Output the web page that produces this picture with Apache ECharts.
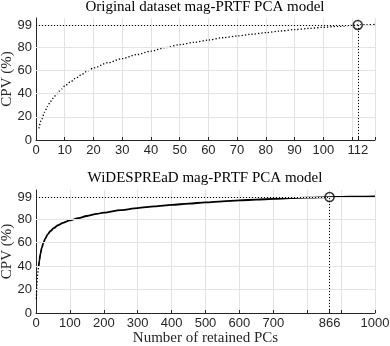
<!DOCTYPE html>
<html>
<head>
<meta charset="utf-8">
<script src="https://cdn.jsdelivr.net/npm/echarts@6/dist/echarts.min.js"></script>
<style>
html,body{margin:0;padding:0;background:#fff;}
#chart{width:390px;height:346px;}
</style>
</head>
<body>
<div id="chart"></div>
<script>
// values
var topPCs = [1,2,3,4,5,6,7,8,9,10,12,14,16,18,20,25,30,35,40,45,50,55,60,65,70,75,80,85,90,95,100,105,110,112,115,118];
var topCPV = [10,18,24,29,33,36,39,42,44,46.5,50,53.5,56.5,59.5,62,66.5,70,73.5,76.5,79.5,82,84,86,88,89.5,91,92.4,93.8,95,96,97,97.8,98.6,99,99.2,99.4];

var botStartPCs = [1,2,3,4,5,6,7,8];
var botStartCPV = [12,20,26,30,33,36,38,40];
var botPCs = [8,10,13,17,22,27,35,43,52,65,80,100,125,150,179,200,250,300,350,400,450,500,550,600,650,700,750,800,866,900,950,1000];
var botCPV = [40,45,50.5,55.5,60,63.5,67.3,70,72.4,74.9,77,79.1,81,82.8,84.6,85.7,87.9,89.6,91,92.3,93.4,94.4,95.3,96.1,96.8,97.4,98,98.5,99,99.2,99.4,99.6];

var threshold = 99;
var topCut = 112;
var botCut = 866;

var topXLabels = [0,10,20,30,40,50,60,70,80,90,100,112];
var topXTicks = [0,10,20,30,40,50,60,70,80,90,100,110,112,118];
var botXLabels = [0,100,200,300,400,500,600,700,866,1000];
var botXTicks = [0,100,200,300,400,500,600,700,800,866,900,1000];
var yLabels = [0,20,40,60,80,99];
var yGrid = [20,40,60,80,99];

function pairs(xs,ys){
	var out=[];
	for(var i=0;i<xs.length;i++){ out.push([xs[i],ys[i]]); }
	return out;
}
function plain(v){ return String(v); }

var axisColor = '#262626';
var gridColor = '#e3e3e3';
var serif = '"Liberation Serif", serif';
var sans = '"Liberation Sans", Arial, sans-serif';

function xAxisFor(gi,max,interval,labels,ticks,name){
	return {
		type:'value', gridIndex:gi, min:0, max:max, interval:interval,
		name:name, nameLocation:'middle', nameGap:18, nameMoveOverlap:false,
		nameTextStyle:{fontFamily:serif,fontSize:15,color:axisColor},
		axisLine:{onZero:false,lineStyle:{color:axisColor,width:1}},
		axisTick:{inside:true,length:3,customValues:ticks,lineStyle:{color:axisColor}},
		axisLabel:{customValues:labels,formatter:plain,margin:4,color:axisColor,fontFamily:sans,fontSize:13,showMaxLabel:true,showMinLabel:true},
		splitLine:{show:true,lineStyle:{color:gridColor,width:1}}
	};
}
function yAxisFor(gi){
	return {
		type:'value', gridIndex:gi, min:0, max:105,
		name:'CPV (%)', nameLocation:'middle', nameGap:21, nameMoveOverlap:false,
		nameTextStyle:{fontFamily:serif,fontSize:15,color:axisColor},
		axisLine:{show:true,lineStyle:{color:axisColor,width:1}},
		axisTick:{show:true,inside:true,length:3,customValues:yLabels,lineStyle:{color:axisColor}},
		axisLabel:{customValues:yLabels,formatter:plain,margin:4,color:axisColor,fontFamily:sans,fontSize:13},
		splitLine:{show:false}
	};
}
function gridLines(ai){
	return {
		type:'line', xAxisIndex:ai, yAxisIndex:ai, data:[], z:1,
		markLine:{silent:true,symbol:['none','none'],label:{show:false},
			lineStyle:{color:gridColor,type:'solid',width:1},
			data:yGrid.map(function(v){return {yAxis:v};})}
	};
}
function refLines(ai,cut){
	return {
		type:'scatter', xAxisIndex:ai, yAxisIndex:ai, z:5,
		symbol:'circle', symbolSize:9,
		itemStyle:{color:'rgba(0,0,0,0)',borderColor:'#000',borderWidth:1.5},
		data:[[cut,threshold]],
		markLine:{silent:true,symbol:['none','none'],label:{show:false},
			lineStyle:{color:'#000',type:[1,2],width:1},
			data:[
				[{coord:[0,threshold]},{coord:[cut,threshold]}],
				[{coord:[cut,0]},{coord:[cut,threshold]}]
			]}
	};
}

var myChart = echarts.init(document.getElementById('chart'));
var option = {
	animation:false,
	backgroundColor:'#fff',
	title:[{
		text:'Original dataset mag-PRTF PCA model', left:205, textAlign:'center', top:0, padding:0,
		textStyle:{fontFamily:serif,fontSize:15,fontWeight:'normal',color:'#000'}
	},{
		text:'WiDESPREaD mag-PRTF PCA model', left:205, textAlign:'center', top:171, padding:0,
		textStyle:{fontFamily:serif,fontSize:15,fontWeight:'normal',color:'#000'}
	}],
	grid:[
		{left:36,right:15,top:18,height:122,containLabel:false,outerBoundsMode:'none'},
		{left:36,right:15,top:190,height:123,containLabel:false,outerBoundsMode:'none'}
	],
	xAxis:[
		xAxisFor(0,118,10,topXLabels,topXTicks,''),
		xAxisFor(1,1000,100,botXLabels,botXTicks,'Number of retained PCs')
	],
	yAxis:[yAxisFor(0),yAxisFor(1)],
	series:[
		gridLines(0),
		gridLines(1),
		{
			type:'line', xAxisIndex:0, yAxisIndex:0, z:3, showSymbol:false, symbol:'none',
			smooth:0.3, smoothMonotone:'x',
			lineStyle:{color:'#000',width:1.3,type:[1.3,2]},
			data:pairs(topPCs,topCPV)
		},
		{
			type:'line', xAxisIndex:1, yAxisIndex:1, z:3, showSymbol:false, symbol:'none',
			lineStyle:{color:'#000',width:1.3,type:[1.3,2]},
			data:pairs(botStartPCs,botStartCPV)
		},
		{
			type:'line', xAxisIndex:1, yAxisIndex:1, z:3, showSymbol:false, symbol:'none',
			smooth:0.3, smoothMonotone:'x',
			lineStyle:{color:'#000',width:1.8},
			data:pairs(botPCs,botCPV)
		},
		refLines(0,topCut),
		refLines(1,botCut)
	]
};
myChart.setOption(option);
</script>
</body>
</html>
